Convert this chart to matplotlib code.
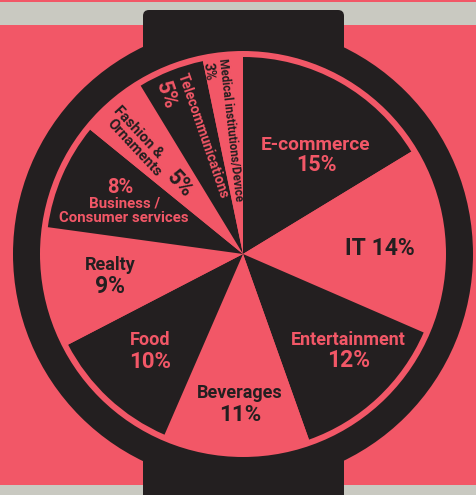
import matplotlib
matplotlib.use("Agg")
import matplotlib.pyplot as plt
from matplotlib.patches import Circle, Rectangle, FancyBboxPatch

# data: share of companies by sector (as printed)
sectors = ["E-commerce", "IT", "Entertainment", "Beverages", "Food", "Realty",
           "Business / Consumer services", "Fashion & Ornaments",
           "Telecommunications", "Medical institutions/Device"]
shares = [15, 14, 12, 11, 10, 9, 8, 5, 5, 3]

RED = "#F25767"
DARK = "#231F20"
GREY = "#C9C9C1"

W, H = 476, 495
CX, CY = 243, H - 254   # pie centre in pixel coords (y up)

fig = plt.figure(figsize=(W / 100, H / 100), dpi=100)
fig.patch.set_facecolor(RED)
ax = fig.add_axes([0, 0, 1, 1])
ax.set_facecolor(RED)

# grey bands top and bottom
ax.add_patch(Rectangle((0, H - 25), W, 23, color=GREY, lw=0, zorder=0))
ax.add_patch(Rectangle((0, 0), W, 10, color=GREY, lw=0, zorder=0))

# watch strap + bezel
ax.add_patch(FancyBboxPatch((143, -20), 201, H - 10 + 20, boxstyle="round,pad=0,rounding_size=6",
                            color=DARK, lw=0, zorder=1))
ax.add_patch(Circle((CX, CY), 230, color=DARK, lw=0, zorder=2))
ax.add_patch(Circle((CX, CY), 203, color=RED, lw=0, zorder=3))

colors = [DARK if i % 2 == 0 else RED for i in range(len(shares))]
wedges, _ = ax.pie(shares, colors=colors, startangle=90, counterclock=False,
                   radius=197, center=(CX, CY),
                   wedgeprops=dict(linewidth=0))
for w in wedges:
    w.set_zorder(4)

ax.set_xlim(0, W)
ax.set_ylim(0, H)
ax.set_aspect("equal")
ax.axis("off")

FONT = ["Roboto", "DejaVu Sans"]


def txt(x, y, s, size, color, rot=0, ha="center", va="baseline"):
    ax.text(x, H - y, s, fontsize=size, color=color, fontweight="bold", family=FONT,
            ha=ha, va=va, rotation=rot, rotation_mode="anchor", zorder=6)


def pct(v):
    return f"{v}%"


# horizontal labels (x, baseline y in image pixels)
txt(316, 150, sectors[0], 13.8, RED)
txt(316, 171, pct(shares[0]), 15.5, RED)
txt(380, 255, f"{sectors[1]} {pct(shares[1])}", 16.5, DARK)
txt(348, 345, sectors[2], 13, RED)
txt(349, 367, pct(shares[2]), 16.5, RED)
txt(240, 398, sectors[3], 13, DARK)
txt(240, 421, pct(shares[3]), 16, DARK)
txt(150, 345, sectors[4], 13, RED)
txt(150, 368, pct(shares[4]), 16, RED)
txt(110, 270, sectors[5], 13, DARK)
txt(110, 293, pct(shares[5]), 16.5, DARK)
txt(120, 193, pct(shares[6]), 14.5, RED)
txt(125, 208, "Business /", 10.8, RED)
txt(124, 222, "Consumer services", 10.8, RED)

# rotated labels (centres)
txt(138, 132, "Fashion &", 10.5, DARK, rot=-47, va="center")
txt(134, 148, "Ornaments", 10.5, DARK, rot=-47, va="center")
txt(180, 184, pct(shares[7]), 15.5, DARK, rot=-47, va="center")
txt(203, 136, sectors[8], 10, RED, rot=-71, va="center")
txt(166, 95, pct(shares[8]), 15.5, RED, rot=-71, va="center")
txt(231, 130, sectors[9], 8.4, DARK, rot=-83.5, va="center")
txt(209, 72, pct(shares[9]), 10, DARK, rot=-83.5, va="center")

fig.savefig("out.png", dpi=100, facecolor=RED)
